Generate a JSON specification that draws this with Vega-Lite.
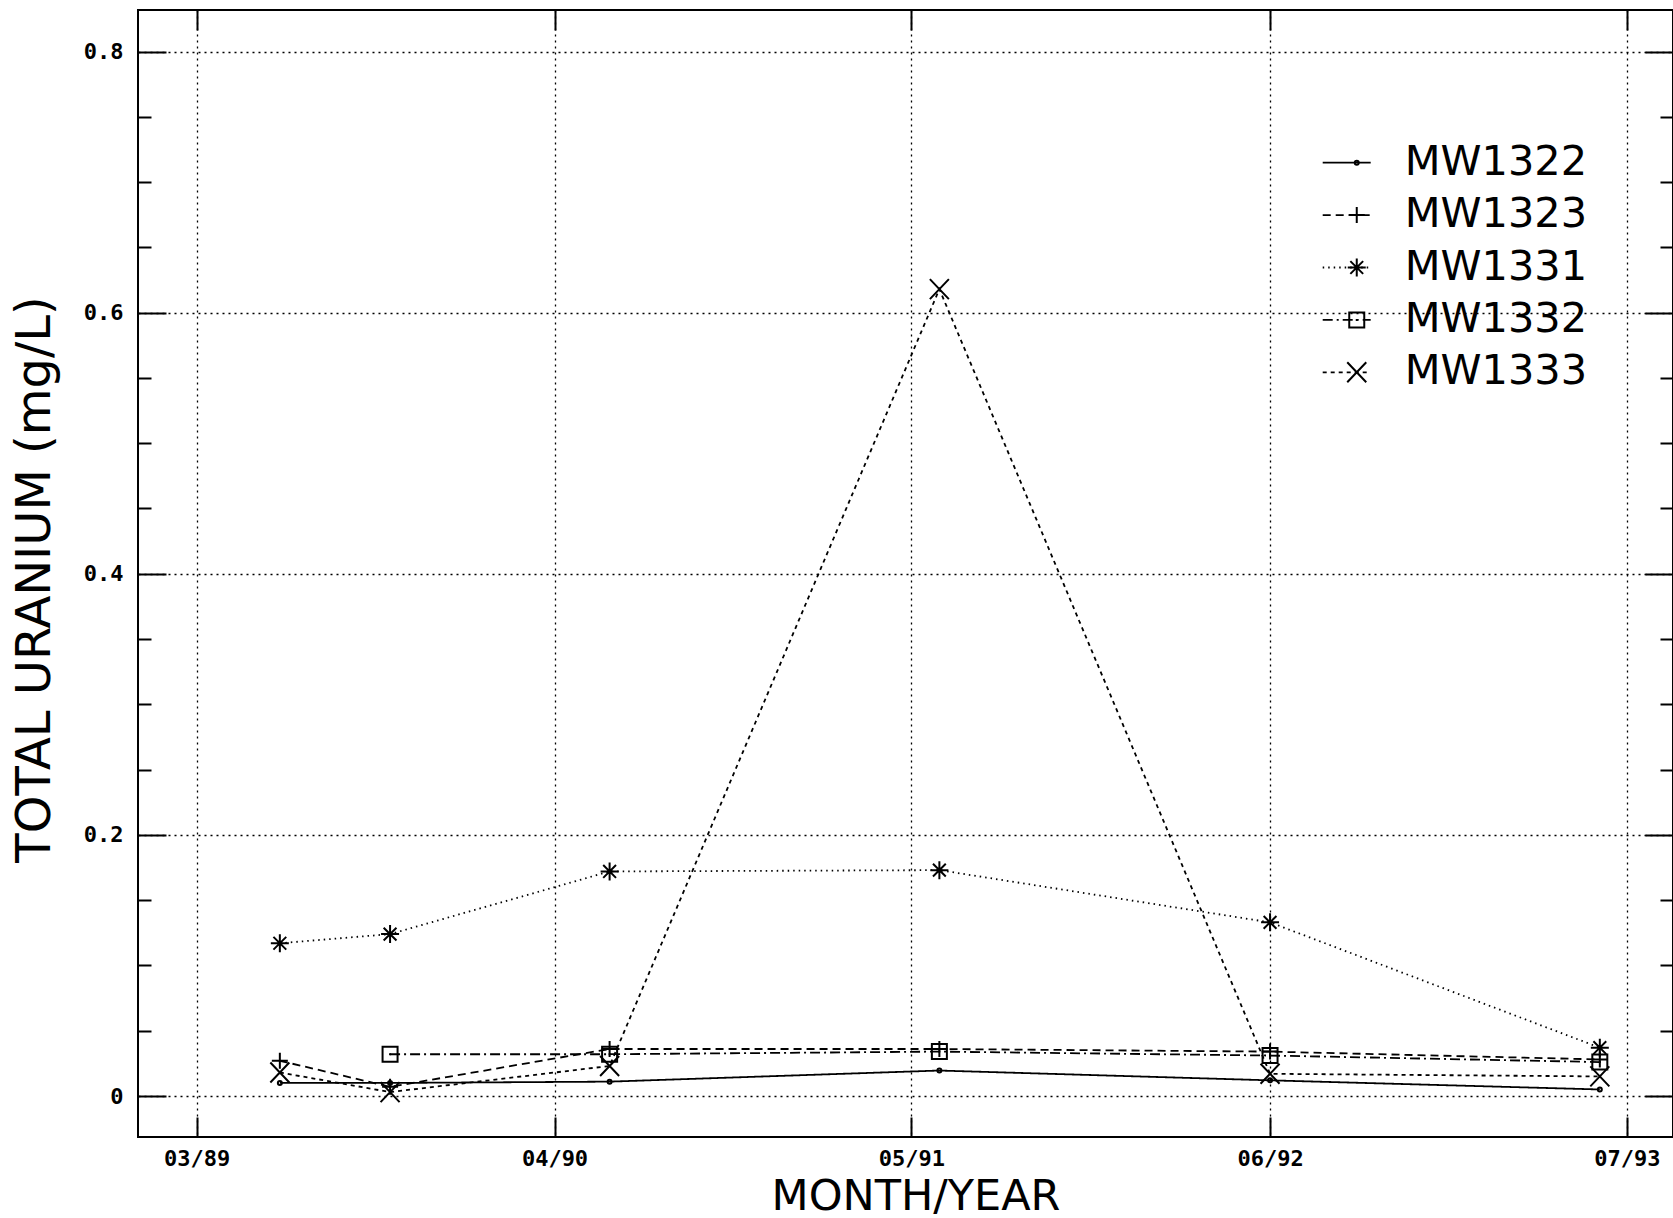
{
  "$schema": "https://vega.github.io/schema/vega-lite/v6.json",
  "width": 1535,
  "height": 1127,
  "autosize": {"type": "none"},
  "padding": {"left": 138, "top": 10, "right": 0, "bottom": 81},
  "background": "white",
  "config": {
    "view": {"stroke": "black", "strokeWidth": 2}
  },
  "data": {
    "values": [
      {"date": "1989-06-01", "well": "MW1322", "u": 0.010},
      {"date": "1989-10-01", "well": "MW1322", "u": 0.010},
      {"date": "1990-06-01", "well": "MW1322", "u": 0.011},
      {"date": "1991-06-01", "well": "MW1322", "u": 0.0195},
      {"date": "1992-06-01", "well": "MW1322", "u": 0.012},
      {"date": "1993-06-01", "well": "MW1322", "u": 0.005},
      {"date": "1989-06-01", "well": "MW1323", "u": 0.027},
      {"date": "1989-10-01", "well": "MW1323", "u": 0.007},
      {"date": "1990-06-01", "well": "MW1323", "u": 0.036},
      {"date": "1991-06-01", "well": "MW1323", "u": 0.036},
      {"date": "1992-06-01", "well": "MW1323", "u": 0.034},
      {"date": "1993-06-01", "well": "MW1323", "u": 0.028},
      {"date": "1989-06-01", "well": "MW1331", "u": 0.117},
      {"date": "1989-10-01", "well": "MW1331", "u": 0.124},
      {"date": "1990-06-01", "well": "MW1331", "u": 0.172},
      {"date": "1991-06-01", "well": "MW1331", "u": 0.173},
      {"date": "1992-06-01", "well": "MW1331", "u": 0.133},
      {"date": "1993-06-01", "well": "MW1331", "u": 0.037},
      {"date": "1989-10-01", "well": "MW1332", "u": 0.032},
      {"date": "1990-06-01", "well": "MW1332", "u": 0.032},
      {"date": "1991-06-01", "well": "MW1332", "u": 0.034},
      {"date": "1992-06-01", "well": "MW1332", "u": 0.031},
      {"date": "1993-06-01", "well": "MW1332", "u": 0.026},
      {"date": "1989-06-01", "well": "MW1333", "u": 0.018},
      {"date": "1989-10-01", "well": "MW1333", "u": 0.003},
      {"date": "1990-06-01", "well": "MW1333", "u": 0.023},
      {"date": "1991-06-01", "well": "MW1333", "u": 0.618},
      {"date": "1992-06-01", "well": "MW1333", "u": 0.017},
      {"date": "1993-06-01", "well": "MW1333", "u": 0.015}
    ]
  },
  "layer": [
    {
      "mark": {"type": "line", "color": "black", "strokeWidth": 1.8},
      "encoding": {
        "x": {
          "field": "date",
          "type": "temporal",
          "scale": {
            "type": "utc",
            "domain": [
              {"year": 1988, "month": 12, "date": 26, "utc": true},
              {"year": 1993, "month": 8, "date": 21, "utc": true}
            ]
          },
          "axis": {
            "orient": "bottom",
            "values": [
              {"year": 1989, "month": 3, "date": 1, "utc": true},
              {"year": 1990, "month": 4, "date": 1, "utc": true},
              {"year": 1991, "month": 5, "date": 1, "utc": true},
              {"year": 1992, "month": 6, "date": 1, "utc": true},
              {"year": 1993, "month": 7, "date": 1, "utc": true}
            ],
            "format": "%m/%y",
            "tickSize": -20,
            "tickWidth": 2,
            "tickColor": "black",
            "labelPadding": 31,
            "labelFont": "DejaVu Sans Mono",
            "labelFontWeight": "bold",
            "labelFontSize": 22,
            "labelColor": "black",
            "labelFlush": false,
            "labelOverlap": false,
            "grid": true,
            "gridColor": "black",
            "gridDash": [2, 4],
            "gridWidth": 1.3,
            "gridOpacity": 1,
            "domain": false,
            "title": "MONTH/YEAR",
            "titleFont": "DejaVu Sans",
            "titleFontSize": 43,
            "titleFontWeight": "normal",
            "titleColor": "black",
            "titleX": 777.5,
            "titleY": 72,
            "titleBaseline": "alphabetic",
            "titleAlign": "center"
          }
        },
        "y": {
          "field": "u",
          "type": "quantitative",
          "scale": {"domain": [-0.0314, 0.8318], "nice": false, "zero": false},
          "axis": {
            "orient": "left",
            "values": [0, 0.05, 0.1, 0.15, 0.2, 0.25, 0.3, 0.35, 0.4, 0.45, 0.5, 0.55, 0.6, 0.65, 0.7, 0.75, 0.8],
            "format": ".2~f",
            "labelExpr": "abs(datum.value*5 - round(datum.value*5)) < 0.01 ? datum.label : ''",
            "tickSize": {"condition": {"test": "abs(datum.value*5 - round(datum.value*5)) < 0.01", "value": -28}, "value": -13},
            "tickWidth": 2,
            "tickColor": "black",
            "labelPadding": 43,
            "labelFont": "DejaVu Sans Mono",
            "labelFontWeight": "bold",
            "labelFontSize": 22,
            "labelColor": "black",
            "labelOverlap": false,
            "labelFlush": false,
            "grid": true,
            "gridColor": "black",
            "gridDash": [2, 4],
            "gridWidth": 1.3,
            "gridOpacity": {"condition": {"test": "abs(datum.value*5 - round(datum.value*5)) < 0.01", "value": 1}, "value": 0},
            "domain": false,
            "title": "TOTAL URANIUM (mg/L)",
            "titleFont": "DejaVu Sans",
            "titleFontSize": 48,
            "titleFontWeight": "normal",
            "titleColor": "black",
            "titleAngle": 270,
            "titleX": -89,
            "titleY": 569,
            "titleBaseline": "alphabetic",
            "titleAlign": "center"
          }
        },
        "strokeDash": {
          "field": "well",
          "type": "nominal",
          "scale": {
            "domain": ["MW1322", "MW1323", "MW1331", "MW1332", "MW1333"],
            "range": [[1, 0], [8, 5], [1.5, 4], [10, 4, 2, 4], [4, 4]]
          },
          "legend": {
            "orient": "none",
            "legendX": 1183.7,
            "legendY": 130.7,
            "title": null,
            "padding": 0,
            "symbolType": "stroke",
            "symbolSize": 2304,
            "symbolStrokeColor": "black",
            "symbolStrokeWidth": 1.8,
            "labelFont": "DejaVu Sans",
            "labelFontSize": 41.5,
            "labelColor": "black",
            "labelOffset": 33,
            "labelLimit": 400,
            "rowPadding": 8.4,
            "clipHeight": 44
          }
        }
      }
    },
    {
      "mark": {"type": "point", "filled": false, "color": "black", "strokeWidth": 2, "size": 400, "opacity": 1},
      "encoding": {
        "x": {
          "field": "date",
          "type": "temporal",
          "scale": {
            "type": "utc",
            "domain": [
              {"year": 1988, "month": 12, "date": 26, "utc": true},
              {"year": 1993, "month": 8, "date": 21, "utc": true}
            ]
          },
          "axis": {
            "orient": "top",
            "values": [
              {"year": 1989, "month": 3, "date": 1, "utc": true},
              {"year": 1990, "month": 4, "date": 1, "utc": true},
              {"year": 1991, "month": 5, "date": 1, "utc": true},
              {"year": 1992, "month": 6, "date": 1, "utc": true},
              {"year": 1993, "month": 7, "date": 1, "utc": true}
            ],
            "tickSize": -20,
            "tickWidth": 2,
            "tickColor": "black",
            "labels": false,
            "grid": false,
            "domain": false,
            "title": null
          }
        },
        "y": {
          "field": "u",
          "type": "quantitative",
          "scale": {"domain": [-0.0314, 0.8318], "nice": false, "zero": false},
          "axis": {
            "orient": "right",
            "values": [0, 0.05, 0.1, 0.15, 0.2, 0.25, 0.3, 0.35, 0.4, 0.45, 0.5, 0.55, 0.6, 0.65, 0.7, 0.75, 0.8],
            "tickSize": {"condition": {"test": "abs(datum.value*5 - round(datum.value*5)) < 0.01", "value": -28}, "value": -13},
            "tickWidth": 2,
            "tickColor": "black",
            "labels": false,
            "grid": false,
            "domain": false,
            "title": null
          }
        },
        "shape": {
          "field": "well",
          "type": "nominal",
          "scale": {
            "range": [
              "M0.2,0A0.2,0.2,0,1,1,-0.2,0A0.2,0.2,0,1,1,0.2,0Z",
              "M-0.8,0L0.8,0M0,-0.8L0,0.8",
              "M-0.9,0L0.9,0M0,-0.9L0,0.9M-0.64,-0.64L0.64,0.64M-0.64,0.64L0.64,-0.64",
              "M-0.75,-0.75L0.75,-0.75L0.75,0.75L-0.75,0.75ZM0,-0.1L0,0.1",
              "M-0.95,-1L0.95,1M-0.95,1L0.95,-1"
            ]
          },
          "legend": {
            "orient": "none",
            "legendX": 1198,
            "legendY": 130.7,
            "title": null,
            "padding": 0,
            "symbolSize": 400,
            "symbolStrokeColor": "black",
            "symbolFillColor": "transparent",
            "symbolStrokeWidth": 2,
            "labelExpr": "''",
            "labelFont": "DejaVu Sans",
            "labelFontSize": 41.5,
            "labelOffset": 33,
            "rowPadding": 8.4,
            "clipHeight": 44
          }
        }
      }
    }
  ],
  "resolve": {"axis": {"x": "independent", "y": "independent"}}
}
